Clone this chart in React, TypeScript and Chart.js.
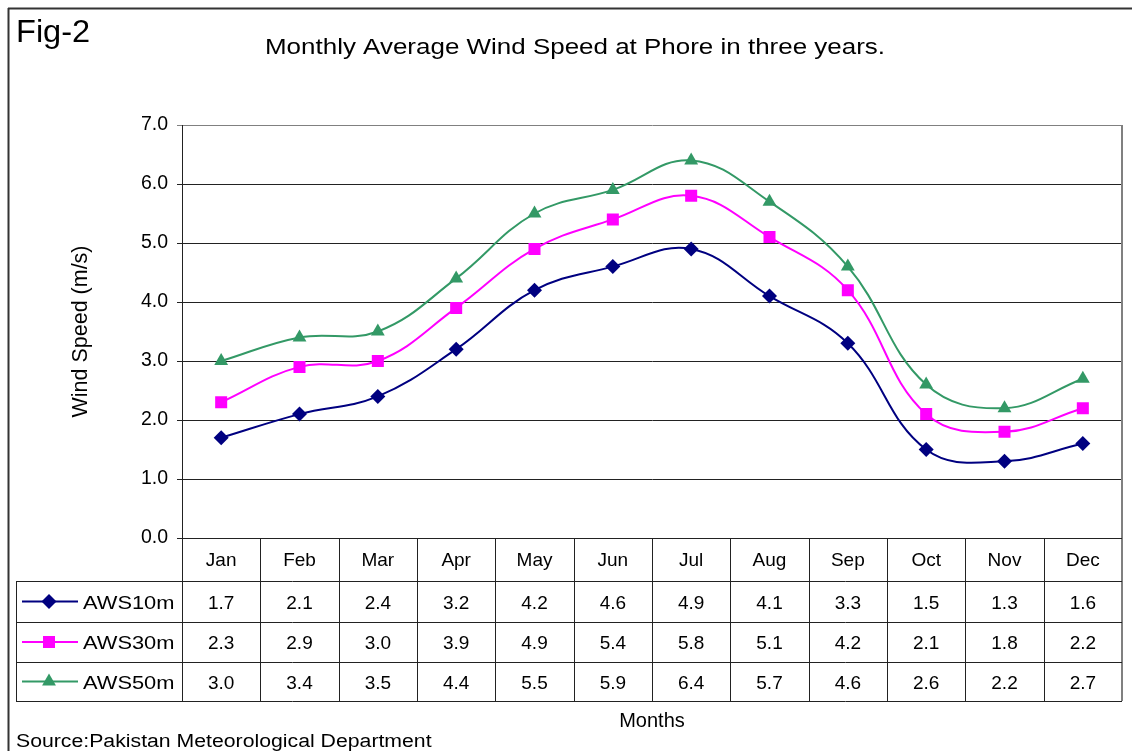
import React, { useEffect, useRef } from 'react';
import { Chart, registerables } from 'chart.js';

Chart.register(...registerables);

const FONT = '"Liberation Sans", Arial, Helvetica, sans-serif';

const months = ['Jan', 'Feb', 'Mar', 'Apr', 'May', 'Jun', 'Jul', 'Aug', 'Sep', 'Oct', 'Nov', 'Dec'];
const seriesNames = ['AWS10m', 'AWS30m', 'AWS50m'];
const aws10 = [1.7, 2.1, 2.4, 3.2, 4.2, 4.6, 4.9, 4.1, 3.3, 1.5, 1.3, 1.6];
const aws30 = [2.3, 2.9, 3.0, 3.9, 4.9, 5.4, 5.8, 5.1, 4.2, 2.1, 1.8, 2.2];
const aws50 = [3.0, 3.4, 3.5, 4.4, 5.5, 5.9, 6.4, 5.7, 4.6, 2.6, 2.2, 2.7];
const yMin = 0;
const yMax = 7;
const yStep = 1;

const titleText = 'Monthly Average Wind Speed at Phore in three years.';
const figLabel = 'Fig-2';
const yTitle = 'Wind Speed (m/s)';
const xTitle = 'Months';
const sourceText = 'Source:Pakistan Meteorological Department';

const colors = ['#000080', '#FF00FF', '#339966'];
const pointStyles = ['rectRot', 'rect', 'triangle'];
const pointRadii = [7.5, 8.5, 8];

function drawText(
  ctx: CanvasRenderingContext2D,
  text: string,
  x: number,
  y: number,
  size: number,
  align: CanvasTextAlign,
  sx = 1,
  rotate = 0
) {
  ctx.save();
  ctx.translate(x, y);
  if (rotate) ctx.rotate(rotate);
  ctx.scale(sx, 1);
  ctx.font = `${size}px ${FONT}`;
  ctx.fillStyle = '#000';
  ctx.textAlign = align;
  ctx.textBaseline = 'alphabetic';
  ctx.fillText(text, 0, 0);
  ctx.restore();
}

function drawMarker(ctx: CanvasRenderingContext2D, style: string, x: number, y: number, r: number, color: string) {
  ctx.save();
  ctx.fillStyle = color;
  ctx.beginPath();
  if (style === 'rectRot') {
    ctx.moveTo(x, y - r);
    ctx.lineTo(x + r, y);
    ctx.lineTo(x, y + r);
    ctx.lineTo(x - r, y);
  } else if (style === 'rect') {
    const s = r * Math.SQRT1_2;
    ctx.rect(x - s, y - s, 2 * s, 2 * s);
  } else {
    ctx.moveTo(x, y - r);
    ctx.lineTo(x + r * 0.866, y + r * 0.5);
    ctx.lineTo(x - r * 0.866, y + r * 0.5);
  }
  ctx.closePath();
  ctx.fill();
  ctx.restore();
}

const decorPlugin = {
  id: 'decor',
  afterDraw(chart: any) {
    const { ctx, chartArea: a, scales } = chart;
    const xs = scales.x;
    const n = months.length;
    const colW = (a.right - a.left) / n;
    const rows = [a.bottom, a.bottom + 43, a.bottom + 84, a.bottom + 124, a.bottom + 163];
    const legendLeft = 16;
    const line = (x1: number, y1: number, x2: number, y2: number) => {
      ctx.beginPath();
      ctx.moveTo(x1, y1);
      ctx.lineTo(x2, y2);
      ctx.stroke();
    };
    ctx.save();
    // outer frame
    ctx.strokeStyle = '#333';
    ctx.lineWidth = 2;
    line(8, 8.5, 1132, 8.5);
    line(8.5, 8, 8.5, 751);

    // plot right border
    ctx.strokeStyle = '#808080';
    ctx.lineWidth = 2;
    line(a.right, a.top, a.right, rows[4]);

    // table grid
    ctx.strokeStyle = '#222';
    ctx.lineWidth = 1;
    for (let i = 0; i < n; i++) {
      const bx = Math.round(xs.getPixelForValue(i) - colW / 2) + 0.5;
      line(bx, a.bottom, bx, rows[4]);
    }
    line(a.left, Math.round(a.bottom) + 0.5, a.right, Math.round(a.bottom) + 0.5);
    for (let r = 1; r < rows.length; r++) {
      const yy = Math.round(rows[r]) + 0.5;
      line(legendLeft, yy, a.right, yy);
    }
    line(legendLeft + 0.5, rows[1], legendLeft + 0.5, rows[4]);

    // month labels
    const headMid = (rows[0] + rows[1]) / 2;
    months.forEach((m, i) => {
      drawText(ctx, m, xs.getPixelForValue(i), headMid + 6, 19, 'center');
    });

    // series rows
    const series = [aws10, aws30, aws50];
    series.forEach((vals, s) => {
      const mid = (rows[s + 1] + rows[s + 2]) / 2;
      vals.forEach((v, i) => {
        drawText(ctx, v.toFixed(1), xs.getPixelForValue(i), mid + 7, 19, 'center');
      });
      ctx.strokeStyle = colors[s];
      ctx.lineWidth = 2;
      line(22, mid, 78, mid);
      drawMarker(ctx, pointStyles[s], 49, mid, pointRadii[s], colors[s]);
      drawText(ctx, seriesNames[s], 83, mid + 7, 19, 'left', 1.15);
    });

    // titles
    drawText(ctx, figLabel, 16, 42, 31, 'left', 1.05);
    drawText(ctx, titleText, 575, 54, 22, 'center', 1.18);
    drawText(ctx, yTitle, 87, (a.top + a.bottom) / 2, 21.5, 'center', 1, -Math.PI / 2);
    drawText(ctx, xTitle, (a.left + a.right) / 2, 727, 20, 'center');
    drawText(ctx, sourceText, 16, 747, 18, 'left', 1.18);
    ctx.restore();
  },
};

export default function App() {
  const ref = useRef<HTMLCanvasElement | null>(null);
  useEffect(() => {
    if (!ref.current) return;
    const series = [aws10, aws30, aws50];
    const chart = new Chart(ref.current, {
      type: 'line',
      data: {
        labels: months,
        datasets: series.map((vals, s) => ({
          label: seriesNames[s],
          data: vals,
          borderColor: colors[s],
          backgroundColor: colors[s],
          borderWidth: 2,
          pointStyle: pointStyles[s] as any,
          pointRadius: pointRadii[s],
          pointBorderWidth: 0,
          tension: 0.4,
          fill: false,
        })),
      },
      options: {
        responsive: false,
        animation: false,
        devicePixelRatio: 1,
        layout: { padding: { left: 122, right: 10, top: 125, bottom: 213 } },
        plugins: {
          legend: { display: false },
          tooltip: { enabled: false },
          title: { display: false },
        },
        scales: {
          x: {
            type: 'category',
            display: false,
            offset: true,
          },
          y: {
            min: yMin,
            max: yMax,
            afterFit: (scale: any) => {
              scale.width = 60;
            },
            ticks: {
              stepSize: yStep,
              color: '#000',
              padding: 9,
              font: { family: FONT, size: 19.5 },
              callback: (v: any) => Number(v).toFixed(1),
            },
            grid: {
              color: (c: any) => (c.tick && c.tick.value === yMax ? '#808080' : '#222'),
              lineWidth: 1,
              tickLength: 5,
              drawTicks: true,
            },
            border: { color: '#222', width: 1 },
          },
        },
      },
      plugins: [decorPlugin],
    });
    return () => chart.destroy();
  }, []);
  return (
    <canvas
      ref={ref}
      width={1132}
      height={751}
      style={{ position: 'fixed', left: 0, top: 0, width: 1132, height: 751, display: 'block' }}
    />
  );
}
